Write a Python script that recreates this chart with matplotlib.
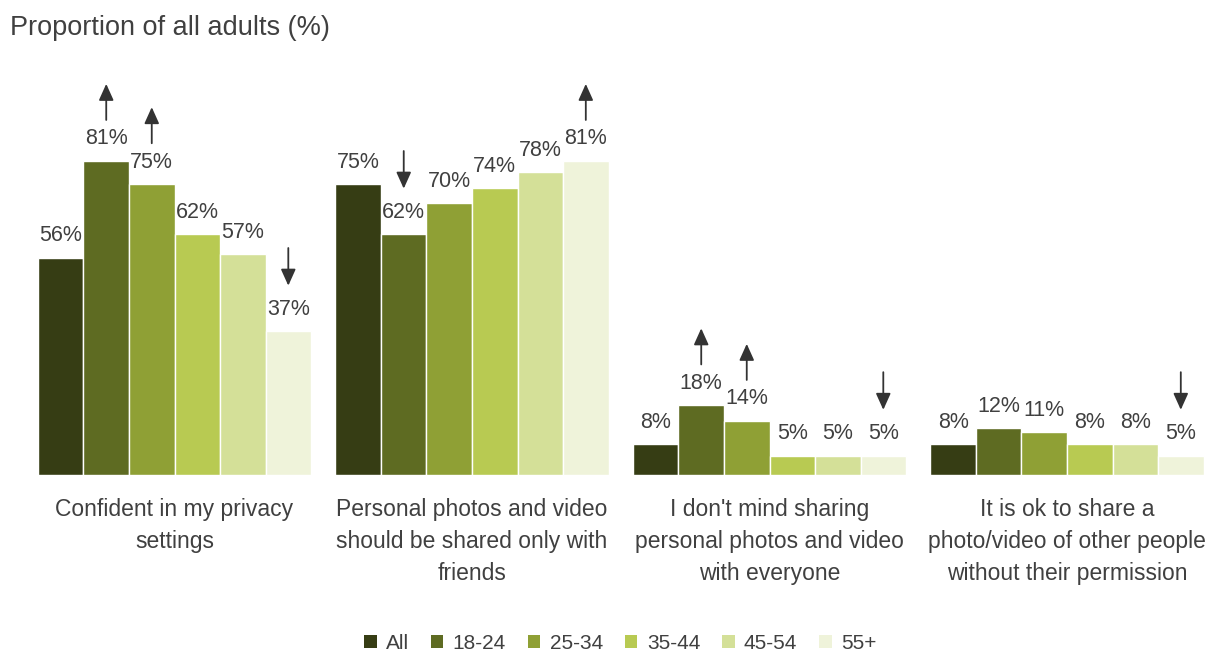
import numpy as np
import matplotlib
matplotlib.use('Agg')
import matplotlib.pyplot as plt
from matplotlib.patches import Patch

plt.rcParams['font.family'] = ['Liberation Sans', 'DejaVu Sans']

categories = ['Confident in my privacy\nsettings',
              'Personal photos and video\nshould be shared only with\nfriends',
              "I don't mind sharing\npersonal photos and video\nwith everyone",
              'It is ok to share a\nphoto/video of other people\nwithout their permission']
series = ['All', '18-24', '25-34', '35-44', '45-54', '55+']
values = {
    'All':   [56, 75, 8, 8],
    '18-24': [81, 62, 18, 12],
    '25-34': [75, 70, 14, 11],
    '35-44': [62, 74, 5, 8],
    '45-54': [57, 78, 5, 8],
    '55+':   [37, 81, 5, 5],
}
colors = ['#363d14', '#5e6b22', '#8fa035', '#b8ca52', '#d4e098', '#eff3da']

# significant differences vs all adults: (group, series)
arrows_up = [(0, '18-24'), (0, '25-34'), (1, '55+'), (2, '18-24'), (2, '25-34')]
arrows_down = [(0, '55+'), (1, '18-24'), (2, '55+'), (3, '55+')]

txt = '#404040'
fig = plt.figure(figsize=(12.21, 6.57), dpi=100)
ax = fig.add_axes([0.0211, 0.277, 0.9746, 0.5906])

x = np.arange(len(categories))
w = 0.153
for j, s in enumerate(series):
    pos = x + (j - 2.5) * w
    ax.bar(pos, values[s], width=w, color=colors[j], edgecolor='white', linewidth=1)
    for px, v in zip(pos, values[s]):
        ax.text(px, v + 2.9, f'{v}%', ha='center', va='bottom', fontsize=15.5, color=txt)

def bar_x(g, s):
    return g + (series.index(s) - 2.5) * w

astyle = '-|>,head_length=1.0,head_width=0.45'
for g, s in arrows_up:
    v = values[s][g]
    ax.annotate('', xy=(bar_x(g, s), v + 19.8), xytext=(bar_x(g, s), v + 10.5),
                annotation_clip=False,
                arrowprops=dict(arrowstyle=astyle, color='#333333', lw=1.3,
                                shrinkA=0, shrinkB=0))
for g, s in arrows_down:
    v = values[s][g]
    ax.annotate('', xy=(bar_x(g, s), v + 11.8), xytext=(bar_x(g, s), v + 21.5),
                annotation_clip=False,
                arrowprops=dict(arrowstyle=astyle, color='#333333', lw=1.3,
                                shrinkA=0, shrinkB=0))

for i, c in enumerate(categories):
    ax.text(i, -0.058, c, transform=ax.get_xaxis_transform(), ha='center', va='top',
            fontsize=16.5, color=txt, linespacing=1.52)

ax.set_xlim(-0.5, 3.5)
ax.set_ylim(0, 100)
ax.axis('off')

fig.text(0.008, 0.958, 'Proportion of all adults (%)', ha='left', va='center',
         fontsize=19.5, color=txt)

handles = [Patch(facecolor=c, edgecolor='none') for c in colors]
fig.legend(handles, series, loc='center', bbox_to_anchor=(0.508, 0.021), ncol=6,
           frameon=False, fontsize=15, handlelength=0.6, handleheight=0.6,
           handletextpad=0.45, columnspacing=1.05, labelcolor=txt)

fig.savefig('out.png', dpi=100)
